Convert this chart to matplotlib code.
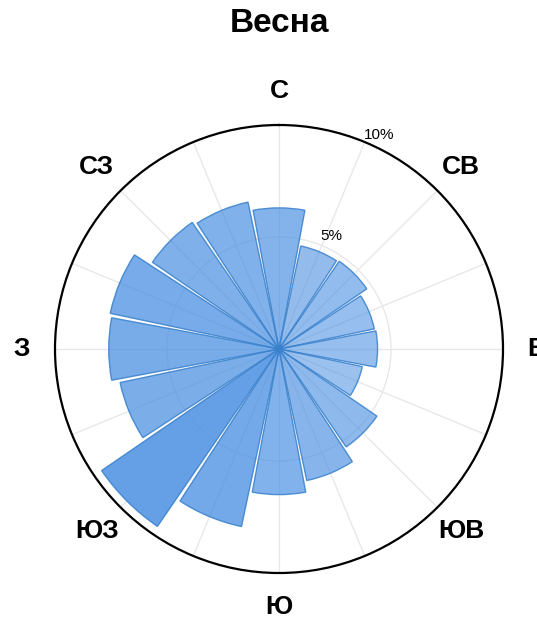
import numpy as np
import matplotlib
matplotlib.use("Agg")
import matplotlib.pyplot as plt

# wind rose data, spring, % of observations per direction (N, NNE, ... NNW)
directions = ["С", "ССВ", "СВ", "ВСВ", "В", "ВЮВ", "ЮВ", "ЮЮВ",
              "Ю", "ЮЮЗ", "ЮЗ", "ЗЮЗ", "З", "ЗСЗ", "СЗ", "ССЗ"]
freq = [6.3, 4.7, 4.75, 4.35, 4.4, 3.8, 5.3, 6.0,
        6.5, 8.1, 9.6, 7.25, 7.6, 7.7, 6.85, 6.7]
main_labels = ["С", "СВ", "В", "ЮВ", "Ю", "ЮЗ", "З", "СЗ"]
r_ticks = [5, 10]
r_labels = ["5%", "10%"]
title = "Весна"

plt.rcParams["font.family"] = ["Liberation Sans", "DejaVu Sans"]

fig = plt.figure(figsize=(5.37, 6.19), dpi=100)
ax = fig.add_axes([55 / 537, 46 / 619, 448 / 537, 448 / 619], projection="polar")
ax.set_theta_zero_location("N")
ax.set_theta_direction(-1)

step = 2 * np.pi / len(directions)
theta = np.arange(len(directions)) * step
vals = np.array(freq)

base = np.array([74, 144, 226]) / 255
alphas = 0.55 + 0.3 * (vals - vals.min()) / (vals.max() - vals.min())
colors = [(*base, a) for a in alphas]

ax.bar(theta, vals, width=step * 0.94, bottom=0, color=colors,
       edgecolor=(0.22, 0.50, 0.80, 0.85), linewidth=1.0, zorder=3)

ax.set_ylim(0, 10)
ax.set_xticks(theta)
ax.set_xticklabels([])
ax.set_yticks(r_ticks)
ax.set_yticklabels([])
ax.grid(True, color="#e6e6e6", linewidth=0.9)
ax.spines["polar"].set_color("black")
ax.spines["polar"].set_linewidth(1.6)
ax.tick_params(length=0)

# direction labels
for ang, lab in zip(theta[::2], main_labels):
    ax.text(ang, 11.5, lab, ha="center", va="center", fontsize=19,
            fontweight="bold", clip_on=False)

# radial labels
for r, lab in zip(r_ticks, r_labels):
    ax.text(np.deg2rad(25), r + 0.55, lab, ha="center", va="center",
            fontsize=11, clip_on=False, zorder=4)

fig.text(279 / 537, 1 - 23 / 619, title, ha="center", va="center",
         fontsize=24, fontweight="bold")

fig.savefig("out.png", dpi=100)
